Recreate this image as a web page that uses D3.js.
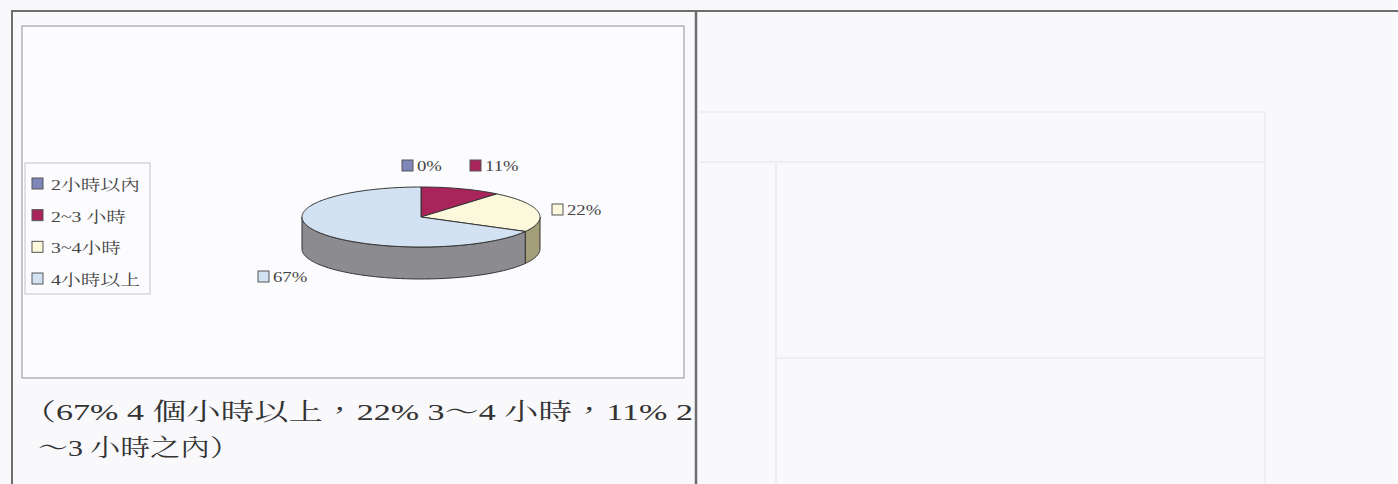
<!DOCTYPE html>
<html><head><meta charset="utf-8">
<script src="https://cdn.jsdelivr.net/npm/d3@7"></script>
<style>html,body{margin:0;padding:0;background:#f9f9fc;}svg{display:block}</style>
</head><body>
<script>
const categories = ["2小時以內", "2~3 小時", "3~4小時", "4小時以上"];
const values = [0, 11, 22, 67];
const pctLabels = ["0%", "11%", "22%", "67%"];
const topColors = ["#7f86b8", "#a8245a", "#fbf8dc", "#d2e2f3"];
const sideColors = ["#5a5f86", "#6e1a3e", "#a39e78", "#8b8b90"];
const captionLines = ["（67% 4 個小時以上，22% 3～4 小時，11% 2", "～3 小時之內）"];

const W = 1398, H = 484, SX = 1.32;
const svg = d3.select("body").append("svg").attr("width", W).attr("height", H);
svg.append("rect").attr("width", W).attr("height", H).attr("fill", "#f9f9fc");

// faint bleed-through table lines on right panel
const faint = "#eeeff5";
[[700,112,1265,112],[700,162,1265,162],[776,162,776,484],[1265,112,1265,484],[776,358,1265,358]].forEach(l=>{
  svg.append("line").attr("x1",l[0]).attr("y1",l[1]).attr("x2",l[2]).attr("y2",l[3]).attr("stroke",faint).attr("stroke-width",2);
});

// page frame
svg.append("line").attr("x1",11).attr("y1",11).attr("x2",W).attr("y2",11).attr("stroke","#6e6e6e").attr("stroke-width",2);
svg.append("line").attr("x1",12).attr("y1",11).attr("x2",12).attr("y2",H).attr("stroke","#6e6e6e").attr("stroke-width",2);
svg.append("line").attr("x1",696).attr("y1",11).attr("x2",696).attr("y2",H).attr("stroke","#6e6e6e").attr("stroke-width",2.5);

// chart area box
svg.append("rect").attr("x",22).attr("y",26).attr("width",662).attr("height",352)
  .attr("fill","#fcfcfe").attr("stroke","#b4b4b8").attr("stroke-width",1.5);

const fontCJK = "'Liberation Serif','Noto Serif CJK TC','Noto Sans CJK TC',serif";

// legend
svg.append("rect").attr("x",25).attr("y",163).attr("width",125).attr("height",131)
  .attr("fill","#fcfcfe").attr("stroke","#c4c4c8").attr("stroke-width",1);
const legY = d3.scalePoint().domain(categories).range([184, 279]);
const leg = svg.selectAll("g.leg").data(categories).join("g").attr("class","leg");
leg.append("rect").attr("x",32).attr("y",d=>legY(d)-6).attr("width",11).attr("height",11)
  .attr("fill",(d,i)=>topColors[i]).attr("stroke","#555").attr("stroke-width",1);
leg.append("text").attr("transform",d=>`translate(51,${legY(d)+6}) scale(${SX},1)`)
  .attr("font-family",fontCJK).attr("font-size",15).attr("fill","#444").text(d=>d);

// 3D pie
const cx = 421, cy = 217, rx = 119, ry = 30, depth = 32;
const pie = d3.pie().sort(null).startAngle(0).endAngle(2*Math.PI);
const arcs = pie(values);
const px = a => cx + rx*Math.sin(a);
const py = a => cy - ry*Math.cos(a);
const line = d3.line();
function samples(a0, a1){ const n = Math.max(2, Math.ceil(Math.abs(a1-a0)/0.02)); return d3.range(n+1).map(k=>a0+(a1-a0)*k/n); }

// sides
arcs.forEach((d,i)=>{
  const s = Math.max(d.startAngle, Math.PI/2), e = Math.min(d.endAngle, 3*Math.PI/2);
  if (e <= s) return;
  const top = samples(s,e).map(a=>[px(a),py(a)]);
  const bot = samples(s,e).reverse().map(a=>[px(a),py(a)+depth]);
  svg.append("path").attr("d", line(top.concat(bot))+"Z")
    .attr("fill", sideColors[i]).attr("stroke","#333").attr("stroke-width",1).attr("stroke-linejoin","round");
});
// tops
arcs.forEach((d,i)=>{
  if (d.endAngle - d.startAngle <= 0) return;
  const pts = [[cx,cy]].concat(samples(d.startAngle,d.endAngle).map(a=>[px(a),py(a)]));
  svg.append("path").attr("d", line(pts)+"Z")
    .attr("fill", topColors[i]).attr("stroke","#333").attr("stroke-width",1).attr("stroke-linejoin","round");
});

// data labels
const labPos = [[402,166],[470,166],[552,210],[258,277]];
pctLabels.forEach((t,i)=>{
  const g = svg.append("g");
  g.append("rect").attr("x",labPos[i][0]).attr("y",labPos[i][1]-6).attr("width",11).attr("height",11)
    .attr("fill",topColors[i]).attr("stroke","#555").attr("stroke-width",1);
  g.append("text").attr("transform",`translate(${labPos[i][0]+15},${labPos[i][1]+5}) scale(1.25,1)`)
    .attr("font-family",fontCJK).attr("font-size",15).attr("fill","#444").text(t);
});

// caption
svg.append("text").attr("x",22).attr("y",420).attr("textLength",671).attr("lengthAdjust","spacingAndGlyphs")
  .attr("font-family",fontCJK).attr("font-size",24).attr("fill","#333").text(captionLines[0]);
svg.append("text").attr("x",38).attr("y",456).attr("textLength",202).attr("lengthAdjust","spacingAndGlyphs")
  .attr("font-family",fontCJK).attr("font-size",24).attr("fill","#333").text(captionLines[1]);
</script>
</body></html>
